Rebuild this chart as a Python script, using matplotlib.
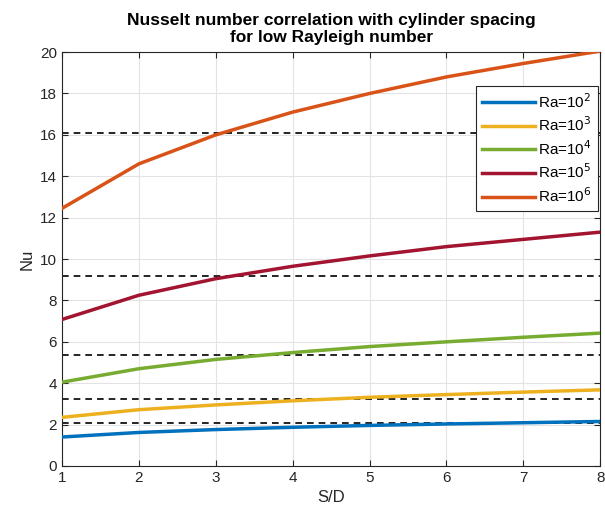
import numpy as np
import matplotlib
matplotlib.use('Agg')
from matplotlib import pyplot as plt

plt.rcParams['font.family'] = ['Liberation Sans', 'DejaVu Sans']

sd = [1, 2, 3, 4, 5, 6, 7, 8]
nu_ra2 = [1.40, 1.62, 1.76, 1.87, 1.96, 2.03, 2.09, 2.15]
nu_ra3 = [2.35, 2.72, 2.95, 3.15, 3.32, 3.45, 3.57, 3.68]
nu_ra4 = [4.05, 4.70, 5.15, 5.48, 5.77, 6.00, 6.22, 6.42]
nu_ra5 = [7.08, 8.25, 9.05, 9.65, 10.15, 10.60, 10.95, 11.30]
nu_ra6 = [12.45, 14.60, 16.00, 17.10, 18.00, 18.80, 19.45, 20.05]
ref_nu = [2.1, 3.25, 5.38, 9.2, 16.1]
labels = ['Ra=10$^2$', 'Ra=10$^3$', 'Ra=10$^4$', 'Ra=10$^5$', 'Ra=10$^6$']
colors = ['#0072BD', '#EDB120', '#77AC30', '#A2142F', '#D95319']

fig = plt.figure(figsize=(6.05, 5.21), dpi=100)
ax = fig.add_axes([0.1025, 0.1056, 0.8895, 0.7944])

for ref in ref_nu:
    ax.axhline(ref, color='black', linestyle=(0, (4, 3)), linewidth=1.2, zorder=2)

for y, lab, c in zip([nu_ra2, nu_ra3, nu_ra4, nu_ra5, nu_ra6], labels, colors):
    ax.plot(sd, y, color=c, linewidth=2.5, label=lab, zorder=3)

ax.set_xlim(1, 8)
ax.set_ylim(0, 20)
ax.set_xticks(range(1, 9))
ax.set_yticks(range(0, 21, 2))
ax.grid(True, color='#e3e3e3', linewidth=0.8)
ax.set_axisbelow(True)
ax.tick_params(direction='in', top=True, right=True, labelsize=11, colors='#262626', length=4)
for s in ax.spines.values():
    s.set_color('#262626')
    s.set_linewidth(0.8)

ax.set_xlabel('S/D', fontsize=12, color='#262626')
ax.set_ylabel('Nu', fontsize=12, color='#262626')
ax.set_title('Nusselt number correlation with cylinder spacing\nfor low Rayleigh number',
             fontsize=12.5, fontweight='bold', color='black', pad=7)

leg = ax.legend(loc='upper right', bbox_to_anchor=(1.01, 0.937), fontsize=11,
                fancybox=False, framealpha=1, edgecolor='#262626',
                handlelength=3.5, borderpad=0.4, labelspacing=0.32, handletextpad=0.2)
leg.get_frame().set_linewidth(0.8)

plt.savefig('out.png', dpi=100)
plt.close()
